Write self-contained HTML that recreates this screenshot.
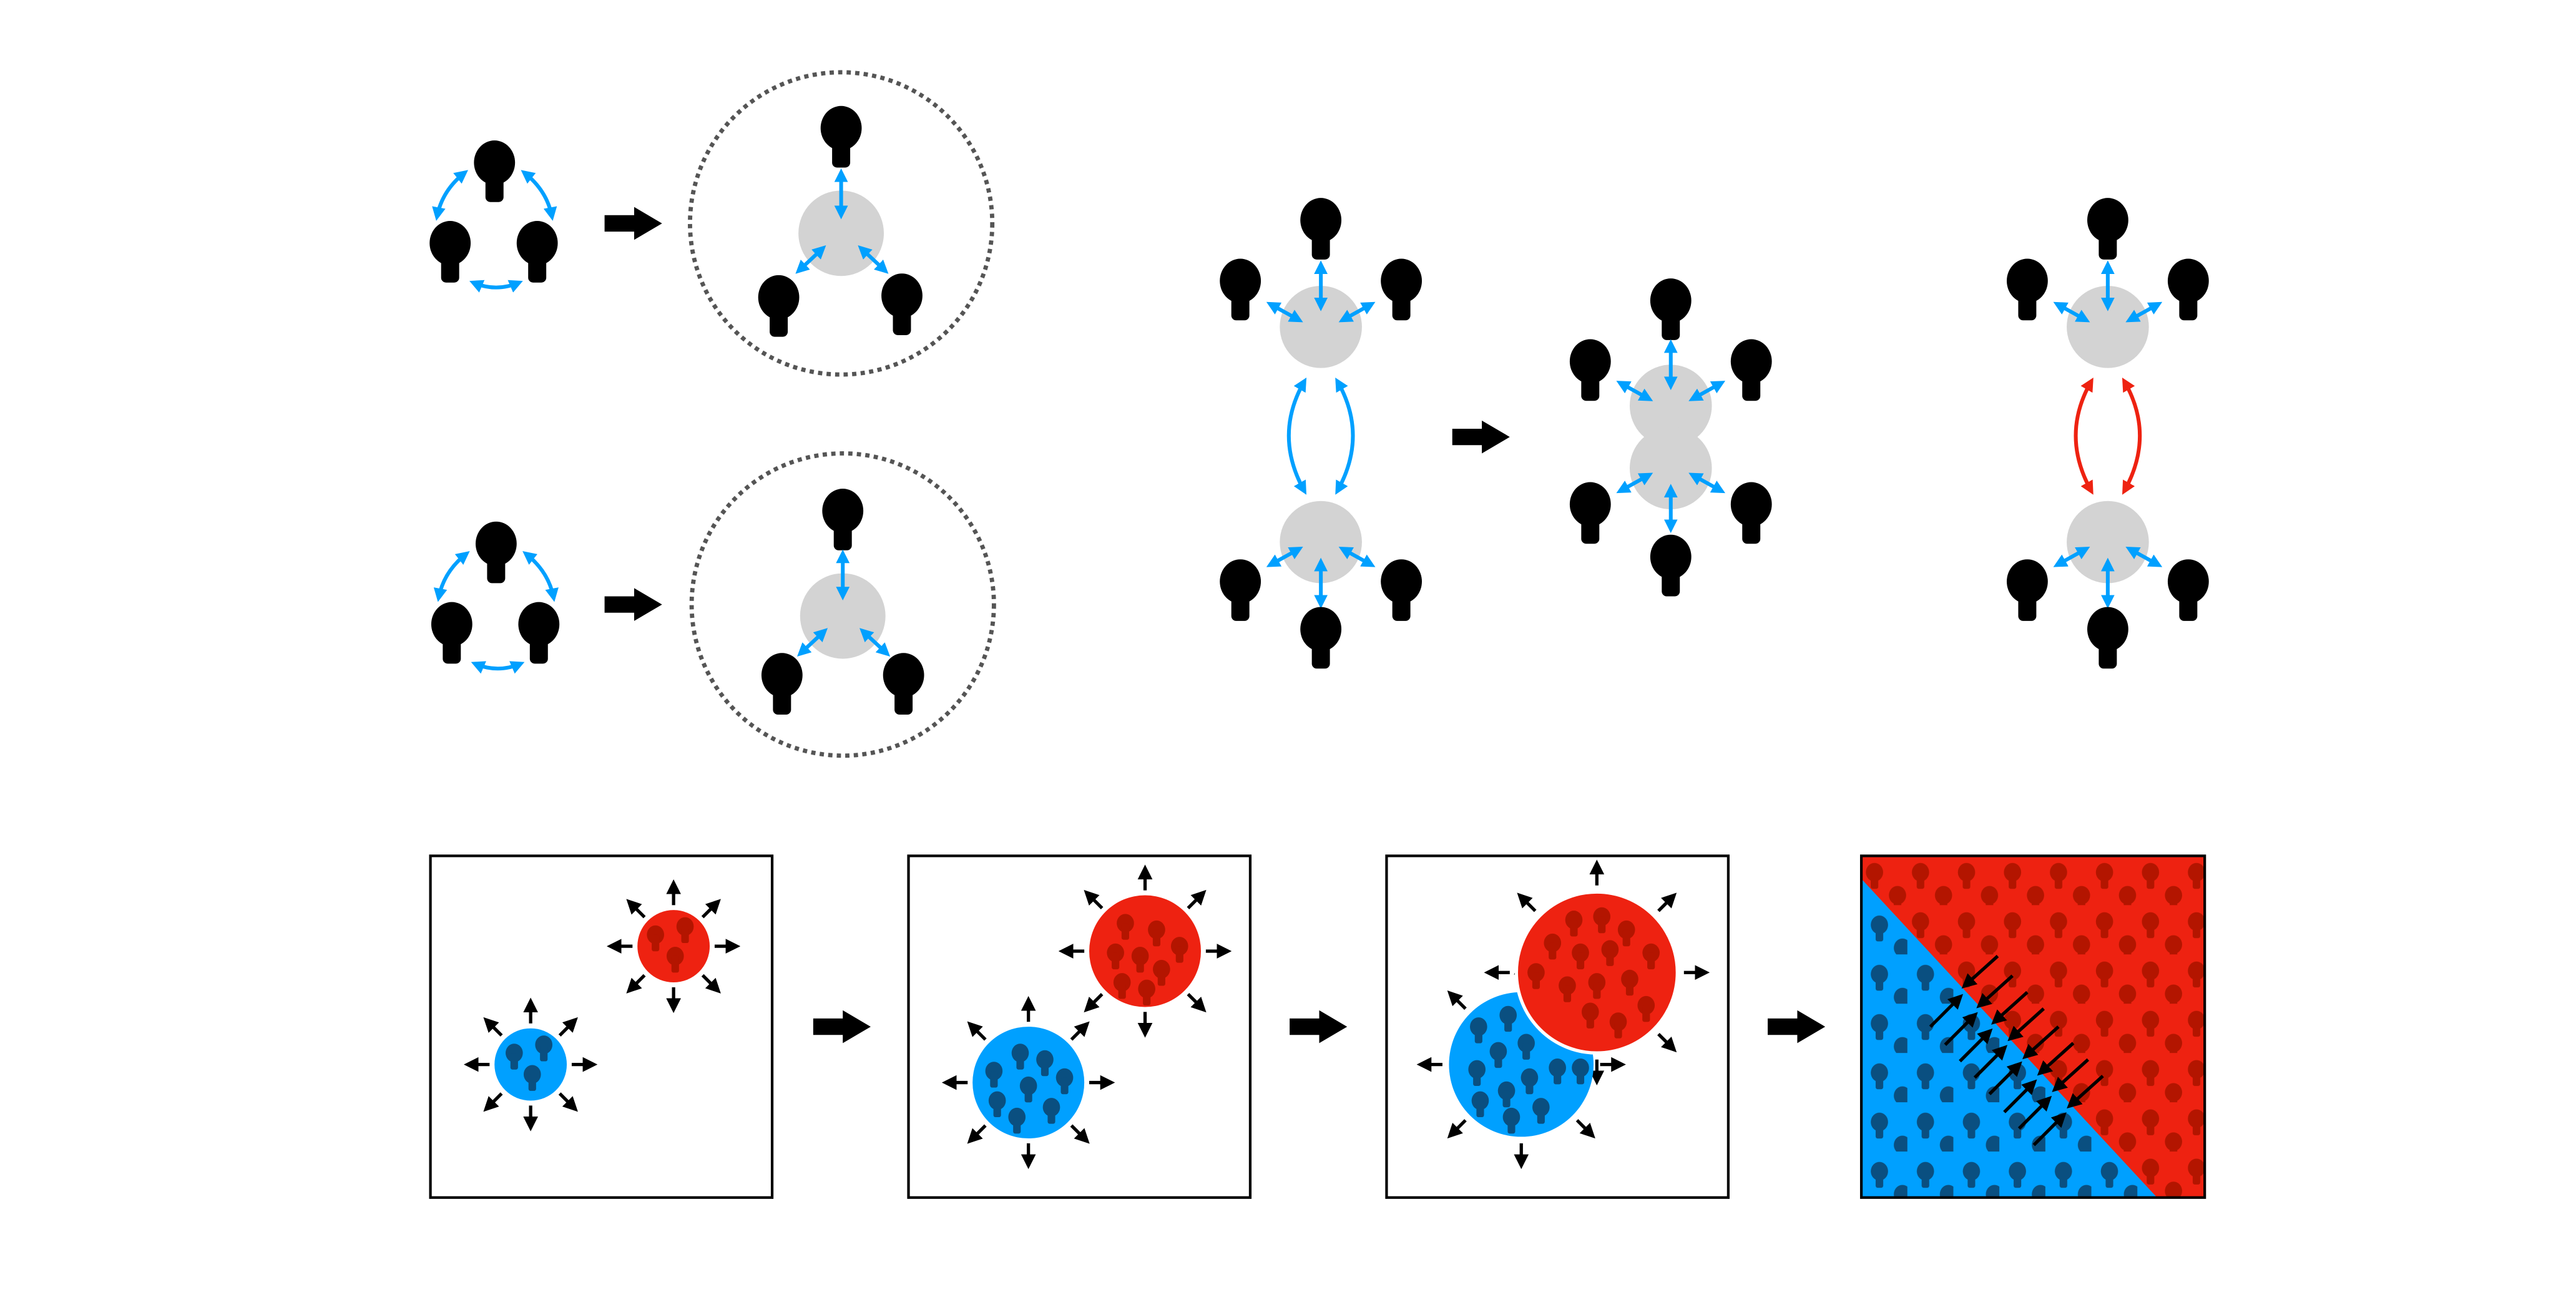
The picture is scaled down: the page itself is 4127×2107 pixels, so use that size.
<!DOCTYPE html>
<html><head><meta charset="utf-8"><style>
html,body{margin:0;padding:0;background:#fff;}
svg{display:block;}
</style></head><body>
<svg width="4127" height="2107" viewBox="0 0 1568 800.5" preserveAspectRatio="none" xmlns="http://www.w3.org/2000/svg">
<defs>
  <g id="pp"><ellipse cx="0" cy="0" rx="12.5" ry="13.5"/><rect x="-5.5" y="0" width="11" height="24" rx="3"/></g>
  <marker id="bh" viewBox="0 0 10 10" refX="7" refY="5" markerWidth="3.6" markerHeight="3.6" orient="auto-start-reverse"><path d="M0,0 L10,5 L0,10 z" fill="#00a0ff"/></marker>
  <marker id="rh" viewBox="0 0 10 10" refX="7" refY="5" markerWidth="3.6" markerHeight="3.6" orient="auto-start-reverse"><path d="M0,0 L10,5 L0,10 z" fill="#ee2211"/></marker>
  <marker id="kh" viewBox="0 0 10 10" refX="7" refY="5" markerWidth="4.5" markerHeight="4.5" orient="auto"><path d="M0,0 L10,5 L0,10 z" fill="#000"/></marker>
  <path id="bigArrow" d="M0,-5 L18,-5 L18,-10 L35,0 L18,10 L18,5 L0,5 z" fill="#000"/>
  <g id="spokesS" stroke="#000" stroke-width="2" marker-end="url(#kh)">
    <line x1="25" y1="0" x2="38" y2="0"/><line x1="25" y1="0" x2="38" y2="0" transform="rotate(45)"/>
    <line x1="25" y1="0" x2="38" y2="0" transform="rotate(90)"/><line x1="25" y1="0" x2="38" y2="0" transform="rotate(135)"/>
    <line x1="25" y1="0" x2="38" y2="0" transform="rotate(180)"/><line x1="25" y1="0" x2="38" y2="0" transform="rotate(225)"/>
    <line x1="25" y1="0" x2="38" y2="0" transform="rotate(270)"/><line x1="25" y1="0" x2="38" y2="0" transform="rotate(315)"/>
  </g>
  <g id="spokesM" stroke="#000" stroke-width="2" marker-end="url(#kh)">
    <line x1="37" y1="0" x2="50" y2="0"/><line x1="37" y1="0" x2="50" y2="0" transform="rotate(45)"/>
    <line x1="37" y1="0" x2="50" y2="0" transform="rotate(90)"/><line x1="37" y1="0" x2="50" y2="0" transform="rotate(135)"/>
    <line x1="37" y1="0" x2="50" y2="0" transform="rotate(180)"/><line x1="37" y1="0" x2="50" y2="0" transform="rotate(225)"/>
    <line x1="37" y1="0" x2="50" y2="0" transform="rotate(270)"/><line x1="37" y1="0" x2="50" y2="0" transform="rotate(315)"/>
  </g>
  <g id="spokesL" stroke="#000" stroke-width="2" marker-end="url(#kh)">
    <line x1="48" y1="0" x2="61" y2="0"/><line x1="48" y1="0" x2="61" y2="0" transform="rotate(45)"/>
    <line x1="48" y1="0" x2="61" y2="0" transform="rotate(90)"/><line x1="48" y1="0" x2="61" y2="0" transform="rotate(135)"/>
    <line x1="48" y1="0" x2="61" y2="0" transform="rotate(180)"/><line x1="48" y1="0" x2="61" y2="0" transform="rotate(225)"/>
    <line x1="48" y1="0" x2="61" y2="0" transform="rotate(270)"/><line x1="48" y1="0" x2="61" y2="0" transform="rotate(315)"/>
  </g>
  <g id="spokesXL" stroke="#000" stroke-width="2" marker-end="url(#kh)">
    <line x1="53" y1="0" x2="66" y2="0"/><line x1="53" y1="0" x2="66" y2="0" transform="rotate(45)"/>
    <line x1="53" y1="0" x2="66" y2="0" transform="rotate(90)"/><line x1="53" y1="0" x2="66" y2="0" transform="rotate(135)"/>
    <line x1="53" y1="0" x2="66" y2="0" transform="rotate(180)"/><line x1="53" y1="0" x2="66" y2="0" transform="rotate(225)"/>
    <line x1="53" y1="0" x2="66" y2="0" transform="rotate(270)"/><line x1="53" y1="0" x2="66" y2="0" transform="rotate(315)"/>
  </g>
  <pattern id="patR" width="28" height="30" patternUnits="userSpaceOnUse" x="1133" y="521">
    <g fill="#b31500"><use href="#pp" transform="translate(8,10) scale(0.42)"/><use href="#pp" transform="translate(22,24) scale(0.42)"/></g>
  </pattern>
  <pattern id="patB" width="28" height="30" patternUnits="userSpaceOnUse" x="1133" y="521">
    <g fill="#0a4f80"><use href="#pp" transform="translate(11,12) scale(0.42)"/><use href="#pp" transform="translate(25,26) scale(0.42)"/></g>
  </pattern>
  <g id="grayArrows">
    <circle cx="0" cy="0" r="25" fill="#d3d3d3"/>
    <g stroke="#00a0ff" stroke-width="2.3" fill="none" marker-start="url(#bh)" marker-end="url(#bh)">
      <line x1="0" y1="-38" x2="0" y2="-12"/><line x1="-31" y1="-14" x2="-13" y2="-4"/><line x1="31" y1="-14" x2="13" y2="-4"/>
    </g>
  </g>
  <g id="topPersons" fill="#000"><use href="#pp" transform="translate(0,-65)"/><use href="#pp" transform="translate(-49,-28)"/><use href="#pp" transform="translate(49,-28)"/></g>
  <g id="botPersons" fill="#000"><use href="#pp" transform="translate(0,53)"/><use href="#pp" transform="translate(-49,24)"/><use href="#pp" transform="translate(49,24)"/></g>
</defs>
<rect width="1568" height="800.5" fill="#fff"/>

<!-- Top-left group 1 -->
<g fill="#000"><use href="#pp" transform="translate(301,99)"/><use href="#pp" transform="translate(274,148)"/><use href="#pp" transform="translate(327,148)"/></g>
<g stroke="#00a0ff" stroke-width="2.3" fill="none" marker-start="url(#bh)" marker-end="url(#bh)">
  <path d="M283,105 Q269,116 266,132"/><path d="M319,105 Q333,116 336,132"/><path d="M288,172 Q302,178 316,172"/>
</g>
<use href="#bigArrow" transform="translate(368,136)"/>
<circle cx="512" cy="136" r="92" fill="none" stroke="#555" stroke-width="2.6" stroke-dasharray="2.6 2.6"/>
<circle cx="512" cy="142" r="26" fill="#d3d3d3"/>
<g fill="#000"><use href="#pp" transform="translate(512,78)"/><use href="#pp" transform="translate(474,181)"/><use href="#pp" transform="translate(549,180)"/></g>
<g stroke="#00a0ff" stroke-width="2.3" fill="none" marker-start="url(#bh)" marker-end="url(#bh)">
  <line x1="512" y1="105" x2="512" y2="131"/><line x1="486" y1="165" x2="501" y2="151"/><line x1="524" y1="151" x2="539" y2="165"/>
</g>

<!-- Top-left group 2 -->
<g fill="#000"><use href="#pp" transform="translate(302,331)"/><use href="#pp" transform="translate(275,380)"/><use href="#pp" transform="translate(328,380)"/></g>
<g stroke="#00a0ff" stroke-width="2.3" fill="none" marker-start="url(#bh)" marker-end="url(#bh)">
  <path d="M284,337 Q270,348 267,364"/><path d="M320,337 Q334,348 337,364"/><path d="M289,404 Q303,410 317,404"/>
</g>
<use href="#bigArrow" transform="translate(368,368)"/>
<circle cx="513" cy="368" r="92" fill="none" stroke="#555" stroke-width="2.6" stroke-dasharray="2.6 2.6"/>
<circle cx="513" cy="375" r="26" fill="#d3d3d3"/>
<g fill="#000"><use href="#pp" transform="translate(513,311)"/><use href="#pp" transform="translate(476,411)"/><use href="#pp" transform="translate(550,411)"/></g>
<g stroke="#00a0ff" stroke-width="2.3" fill="none" marker-start="url(#bh)" marker-end="url(#bh)">
  <line x1="513" y1="337" x2="513" y2="363"/><line x1="487" y1="398" x2="502" y2="384"/><line x1="525" y1="384" x2="540" y2="398"/>
</g>

<!-- Middle cluster -->
<use href="#grayArrows" transform="translate(804,199)"/><use href="#topPersons" transform="translate(804,199)"/>
<use href="#grayArrows" transform="translate(804,330) scale(1,-1)"/><use href="#botPersons" transform="translate(804,330)"/>
<g stroke="#00a0ff" stroke-width="2.3" fill="none" marker-start="url(#bh)" marker-end="url(#bh)">
  <path d="M794,232 Q775,265 794,299"/><path d="M814,232 Q833,265 814,299"/>
</g>
<use href="#bigArrow" transform="translate(884,266)"/>

<!-- Merged cluster -->
<circle cx="1017" cy="247" r="25" fill="#d3d3d3"/><circle cx="1017" cy="285" r="25" fill="#d3d3d3"/>
<g fill="#000">
  <use href="#pp" transform="translate(1017,183)"/><use href="#pp" transform="translate(968,220)"/><use href="#pp" transform="translate(1066,220)"/>
  <use href="#pp" transform="translate(968,307)"/><use href="#pp" transform="translate(1066,307)"/><use href="#pp" transform="translate(1017,339)"/>
</g>
<g stroke="#00a0ff" stroke-width="2.3" fill="none" marker-start="url(#bh)" marker-end="url(#bh)">
  <line x1="1017" y1="209" x2="1017" y2="235"/><line x1="986" y1="233" x2="1004" y2="243"/><line x1="1048" y1="233" x2="1030" y2="243"/>
  <line x1="1017" y1="297" x2="1017" y2="322"/><line x1="986" y1="299" x2="1004" y2="289"/><line x1="1048" y1="299" x2="1030" y2="289"/>
</g>

<!-- Right cluster -->
<use href="#grayArrows" transform="translate(1283,199)"/><use href="#topPersons" transform="translate(1283,199)"/>
<use href="#grayArrows" transform="translate(1283,330) scale(1,-1)"/><use href="#botPersons" transform="translate(1283,330)"/>
<g stroke="#ee2211" stroke-width="2.3" fill="none" marker-start="url(#rh)" marker-end="url(#rh)">
  <path d="M1273,232 Q1254,265 1273,299"/><path d="M1293,232 Q1312,265 1293,299"/>
</g>

<!-- Bottom row boxes -->
<g fill="none" stroke="#000" stroke-width="1.6">
  <rect x="262" y="521" width="208" height="208"/><rect x="553" y="521" width="208" height="208"/><rect x="844" y="521" width="208" height="208"/>
</g>
<use href="#bigArrow" transform="translate(495,625)"/>
<use href="#bigArrow" transform="translate(785,625)"/>
<use href="#bigArrow" transform="translate(1076,625)"/>

<!-- Box1 -->
<circle cx="410" cy="576" r="22" fill="#ee2211"/>
<g fill="#b31500"><use href="#pp" transform="translate(399,569) scale(0.42)"/><use href="#pp" transform="translate(417,564) scale(0.42)"/><use href="#pp" transform="translate(411,582) scale(0.42)"/></g>
<use href="#spokesS" transform="translate(410,576)"/>
<circle cx="323" cy="648" r="22" fill="#00a0ff"/>
<g fill="#0a4f80"><use href="#pp" transform="translate(313,641) scale(0.42)"/><use href="#pp" transform="translate(331,636) scale(0.42)"/><use href="#pp" transform="translate(324,654) scale(0.42)"/></g>
<use href="#spokesS" transform="translate(323,648)"/>

<!-- Box2 -->
<circle cx="697" cy="579" r="34" fill="#ee2211"/>
<g fill="#b31500">
  <use href="#pp" transform="translate(685,562) scale(0.42)"/><use href="#pp" transform="translate(704,566) scale(0.42)"/>
  <use href="#pp" transform="translate(679,580) scale(0.42)"/><use href="#pp" transform="translate(694,582) scale(0.42)"/>
  <use href="#pp" transform="translate(718,576) scale(0.42)"/><use href="#pp" transform="translate(707,590) scale(0.42)"/>
  <use href="#pp" transform="translate(683,598) scale(0.42)"/><use href="#pp" transform="translate(698,602) scale(0.42)"/>
</g>
<use href="#spokesM" transform="translate(697,579)"/>
<circle cx="626" cy="659" r="34" fill="#00a0ff"/>
<g fill="#0a4f80">
  <use href="#pp" transform="translate(621,641) scale(0.42)"/><use href="#pp" transform="translate(636,645) scale(0.42)"/>
  <use href="#pp" transform="translate(605,652) scale(0.42)"/><use href="#pp" transform="translate(626,661) scale(0.42)"/>
  <use href="#pp" transform="translate(648,656) scale(0.42)"/><use href="#pp" transform="translate(607,670) scale(0.42)"/>
  <use href="#pp" transform="translate(640,674) scale(0.42)"/><use href="#pp" transform="translate(619,680) scale(0.42)"/>
</g>
<use href="#spokesM" transform="translate(626,659)"/>

<!-- Box3 -->
<use href="#spokesXL" transform="translate(972,592)"/>
<circle cx="926" cy="648" r="44" fill="#00a0ff"/>
<g fill="#0a4f80">
  <use href="#pp" transform="translate(900,625) scale(0.42)"/><use href="#pp" transform="translate(918,618) scale(0.42)"/>
  <use href="#pp" transform="translate(929,635) scale(0.42)"/><use href="#pp" transform="translate(912,640) scale(0.42)"/>
  <use href="#pp" transform="translate(899,651) scale(0.42)"/><use href="#pp" transform="translate(931,656) scale(0.42)"/>
  <use href="#pp" transform="translate(948,650) scale(0.42)"/><use href="#pp" transform="translate(917,664) scale(0.42)"/>
  <use href="#pp" transform="translate(901,670) scale(0.42)"/><use href="#pp" transform="translate(938,674) scale(0.42)"/>
  <use href="#pp" transform="translate(920,680) scale(0.42)"/><use href="#pp" transform="translate(962,650) scale(0.42)"/>
</g>
<use href="#spokesL" transform="translate(926,648)"/>
<circle cx="972" cy="592" r="49" fill="#ee2211" stroke="#fff" stroke-width="2"/>
<g fill="#b31500">
  <use href="#pp" transform="translate(958,560) scale(0.42)"/><use href="#pp" transform="translate(975,558) scale(0.42)"/><use href="#pp" transform="translate(990,566) scale(0.42)"/>
  <use href="#pp" transform="translate(945,574) scale(0.42)"/><use href="#pp" transform="translate(962,580) scale(0.42)"/><use href="#pp" transform="translate(980,578) scale(0.42)"/>
  <use href="#pp" transform="translate(1005,580) scale(0.42)"/><use href="#pp" transform="translate(935,592) scale(0.42)"/><use href="#pp" transform="translate(954,600) scale(0.42)"/>
  <use href="#pp" transform="translate(972,598) scale(0.42)"/><use href="#pp" transform="translate(992,596) scale(0.42)"/><use href="#pp" transform="translate(1002,612) scale(0.42)"/>
  <use href="#pp" transform="translate(968,616) scale(0.42)"/><use href="#pp" transform="translate(985,622) scale(0.42)"/>
</g>

<!-- Box4 -->
<rect x="1133" y="521" width="209" height="208" fill="#ee2211"/>
<rect x="1133" y="521" width="209" height="208" fill="url(#patR)"/>
<polygon points="1133,535 1133,729 1313,729" fill="#00a0ff"/>
<polygon points="1133,535 1133,729 1313,729" fill="url(#patB)"/>
<g stroke="#000" stroke-width="2" marker-end="url(#kh)">
  <line x1="1216" y1="582" x2="1196" y2="600"/><line x1="1225" y1="594" x2="1205" y2="612"/>
  <line x1="1234" y1="604" x2="1214" y2="622"/><line x1="1244" y1="614" x2="1224" y2="632"/>
  <line x1="1253" y1="625" x2="1233" y2="643"/><line x1="1262" y1="635" x2="1242" y2="653"/>
  <line x1="1271" y1="645" x2="1251" y2="663"/><line x1="1280" y1="655" x2="1260" y2="673"/>
  <line x1="1175" y1="625" x2="1193" y2="607"/><line x1="1184" y1="636" x2="1202" y2="618"/>
  <line x1="1193" y1="646" x2="1211" y2="628"/><line x1="1202" y1="656" x2="1220" y2="638"/>
  <line x1="1211" y1="666" x2="1229" y2="648"/><line x1="1220" y1="677" x2="1238" y2="659"/>
  <line x1="1229" y1="687" x2="1247" y2="669"/><line x1="1238" y1="697" x2="1256" y2="679"/>
</g>
<rect x="1133" y="521" width="209" height="208" fill="none" stroke="#000" stroke-width="1.6"/>
</svg>
</body></html>
